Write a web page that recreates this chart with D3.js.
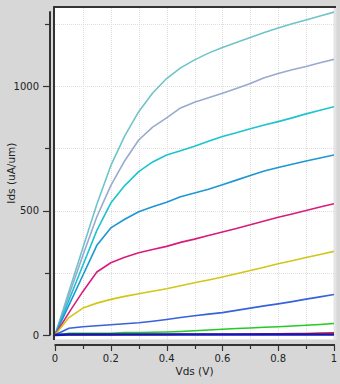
<!DOCTYPE html>
<html>
<head>
<meta charset="utf-8">
<script src="https://cdn.jsdelivr.net/npm/d3@7"></script>
<style>
  html, body { margin: 0; padding: 0; background: #d7d7d7; }
  svg { display: block; }
  text { font-family: "DejaVu Sans", Arial, sans-serif; fill: #222; }
</style>
</head>
<body>
<svg id="chart" width="340" height="384"></svg>
<script>
// Drain voltage sweep (V)
const vds = [0, 0.05, 0.1, 0.15, 0.2, 0.25, 0.3, 0.35, 0.4, 0.45, 0.5,
             0.55, 0.6, 0.65, 0.7, 0.75, 0.8, 0.85, 0.9, 0.95, 1.0];

// Drain current (uA/um), one curve per gate bias, highest first
const ids1 = [0, 175, 350, 525, 680, 800, 897, 972, 1030, 1073, 1105,
              1132, 1155, 1175, 1195, 1215, 1233, 1250, 1265, 1281, 1297];
const ids2 = [0, 160, 320, 475, 600, 700, 783, 835, 872, 912, 935,
              953, 971, 990, 1010, 1033, 1050, 1065, 1078, 1093, 1107];
const ids3 = [0, 140, 280, 420, 530, 600, 656, 695, 723, 740, 758,
              778, 797, 812, 828, 843, 857, 872, 888, 903, 917];
const ids4 = [0, 120, 240, 360, 430, 465, 495, 515, 533, 555, 570,
              585, 603, 622, 641, 659, 673, 686, 699, 711, 723];
const ids5 = [0, 90, 175, 253, 290, 312, 330, 343, 356, 372, 385,
              400, 414, 428, 443, 458, 473, 486, 500, 514, 527];
const ids6 = [0, 70, 108, 128, 143, 155, 166, 176, 186, 198, 210,
              221, 233, 246, 259, 272, 286, 298, 311, 323, 336];
const ids7 = [0, 27, 33, 37, 41, 45, 49, 55, 62, 70, 77,
              84, 90, 99, 108, 117, 125, 134, 144, 153, 163];
const ids8 = [0, 7, 7, 7, 7, 10, 10, 11, 12, 14, 17,
              20, 23, 26, 28, 31, 33, 36, 39, 42, 46];
const ids9 = [0, 1, 1, 1, 1, 2, 2, 2, 2, 3, 3,
              3, 3, 3, 4, 5, 5, 6, 6, 8, 9];
const ids10 = [0, 2, 2, 2, 2, 2, 2, 2, 2, 2, 2,
               2, 2, 2, 2, 2, 2, 2, 2, 2, 2];

const seriesList = [ids1, ids2, ids3, ids4, ids5, ids6, ids7, ids8, ids9, ids10];
const seriesColors = ["#6fc4c9", "#99a9cf", "#1cc4cf", "#1c96d4", "#d81c7c",
                      "#d2c618", "#3761dd", "#22cc22", "#e02020", "#1414b8"];

const xTickValues = [0, 0.2, 0.4, 0.6, 0.8, 1];
const xTickLabels = ["0", "0.2", "0.4", "0.6", "0.8", "1"];
const yTickValues = [0, 500, 1000];
const yTickLabels = ["0", "500", "1000"];
const xLabel = "Vds (V)";
const yLabel = "Ids (uA/um)";

const svg = d3.select("#chart");

// Plot frame geometry
const frame = { left: 53, top: 6, right: 336, bottom: 340 };
const x = d3.scaleLinear().domain([0, 1]).range([55, 334]);
const y = d3.scaleLinear().domain([0, 1300]).range([335, 11.3]);

// White plot panel with a sunken border
svg.append("rect")
  .attr("x", frame.left).attr("y", frame.top)
  .attr("width", frame.right - frame.left).attr("height", frame.bottom - frame.top)
  .attr("fill", "#ffffff");
svg.append("line")
  .attr("x1", frame.right - 1).attr("x2", frame.right - 1)
  .attr("y1", frame.top).attr("y2", frame.bottom)
  .attr("stroke", "#e4e4e4").attr("stroke-width", 3);
svg.append("line")
  .attr("x1", frame.left).attr("x2", frame.right)
  .attr("y1", frame.bottom - 0.5).attr("y2", frame.bottom - 0.5)
  .attr("stroke", "#e8e8e8").attr("stroke-width", 1);

// Dotted grid
const grid = svg.append("g").attr("stroke", "#dedede").attr("stroke-width", 1)
  .attr("stroke-dasharray", "1,1");
grid.selectAll("line.gx").data(d3.range(1, 10).map(i => i / 10)).join("line")
  .attr("x1", d => Math.round(x(d)) + 0.5).attr("x2", d => Math.round(x(d)) + 0.5)
  .attr("y1", frame.top + 2).attr("y2", frame.bottom - 1);
grid.selectAll("line.gy").data([250, 500, 750, 1000, 1250]).join("line")
  .attr("x1", frame.left + 2).attr("x2", frame.right - 2)
  .attr("y1", d => Math.round(y(d)) + 0.5).attr("y2", d => Math.round(y(d)) + 0.5);

// Dark top and left edges of the panel
svg.append("line")
  .attr("x1", frame.left).attr("x2", frame.right)
  .attr("y1", frame.top + 1).attr("y2", frame.top + 1)
  .attr("stroke", "#333").attr("stroke-width", 2);
svg.append("line")
  .attr("x1", frame.left + 1).attr("x2", frame.left + 1)
  .attr("y1", frame.top).attr("y2", frame.bottom)
  .attr("stroke", "#333").attr("stroke-width", 2);

// Curves
svg.append("clipPath").attr("id", "plotClip")
  .append("rect").attr("x", 55).attr("y", 8).attr("width", 279).attr("height", 331);

const line = d3.line()
  .x((d, i) => x(vds[i]))
  .y(d => y(d));

svg.append("g").attr("clip-path", "url(#plotClip)")
  .selectAll("path").data(seriesList).join("path")
  .attr("d", d => line(d))
  .attr("fill", "none")
  .attr("stroke", (d, i) => seriesColors[i])
  .attr("stroke-width", (d, i) => i === 9 ? 2.5 : 1.6)
  .attr("stroke-linejoin", "round");

// Y axis, offset to the left of the panel
const yAxisG = svg.append("g").attr("transform", "translate(50,0)");
yAxisG.append("line")
  .attr("x1", 0).attr("x2", 0).attr("y1", y(1300)).attr("y2", y(0) + 0.5)
  .attr("stroke", "#333").attr("stroke-width", 2);
yAxisG.selectAll("line.minor").data([250, 750, 1250]).join("line")
  .attr("x1", -5).attr("x2", 0)
  .attr("y1", d => Math.round(y(d)) + 0.5).attr("y2", d => Math.round(y(d)) + 0.5)
  .attr("stroke", "#333").attr("stroke-width", 1.2);
yAxisG.selectAll("line.major").data(yTickValues).join("line")
  .attr("x1", -7).attr("x2", 0)
  .attr("y1", d => Math.round(y(d)) + 0.5).attr("y2", d => Math.round(y(d)) + 0.5)
  .attr("stroke", "#333").attr("stroke-width", 1.2);
yAxisG.selectAll("text").data(yTickValues).join("text")
  .attr("x", -11).attr("y", d => y(d))
  .attr("dy", "0.35em")
  .attr("text-anchor", "end")
  .attr("font-size", 10)
  .text((d, i) => yTickLabels[i]);

// X axis, offset below the panel
const xAxisG = svg.append("g").attr("transform", "translate(0,345)");
xAxisG.append("line")
  .attr("x1", x(0) - 0.5).attr("x2", x(1) + 1).attr("y1", 0).attr("y2", 0)
  .attr("stroke", "#333").attr("stroke-width", 2);
xAxisG.selectAll("line.minor").data([0.1, 0.3, 0.5, 0.7, 0.9]).join("line")
  .attr("x1", d => Math.round(x(d)) + 0.5).attr("x2", d => Math.round(x(d)) + 0.5)
  .attr("y1", 0).attr("y2", 4)
  .attr("stroke", "#333").attr("stroke-width", 1.2);
xAxisG.selectAll("line.major").data(xTickValues).join("line")
  .attr("x1", d => Math.round(x(d)) + 0.5).attr("x2", d => Math.round(x(d)) + 0.5)
  .attr("y1", 0).attr("y2", 6)
  .attr("stroke", "#333").attr("stroke-width", 1.2);
xAxisG.selectAll("text").data(xTickValues).join("text")
  .attr("x", d => x(d)).attr("y", 13)
  .attr("dy", "0.35em")
  .attr("text-anchor", "middle")
  .attr("font-size", 10)
  .text((d, i) => xTickLabels[i]);

// Axis titles
svg.append("text")
  .attr("x", (x(0) + x(1)) / 2).attr("y", 371)
  .attr("dy", "0.35em")
  .attr("text-anchor", "middle")
  .attr("font-size", 10.5)
  .text(xLabel);
svg.append("text")
  .attr("transform", `translate(11,${(y(0) + y(1300)) / 2}) rotate(-90)`)
  .attr("dy", "0.35em")
  .attr("text-anchor", "middle")
  .attr("font-size", 10.5)
  .text(yLabel);
</script>
</body>
</html>
